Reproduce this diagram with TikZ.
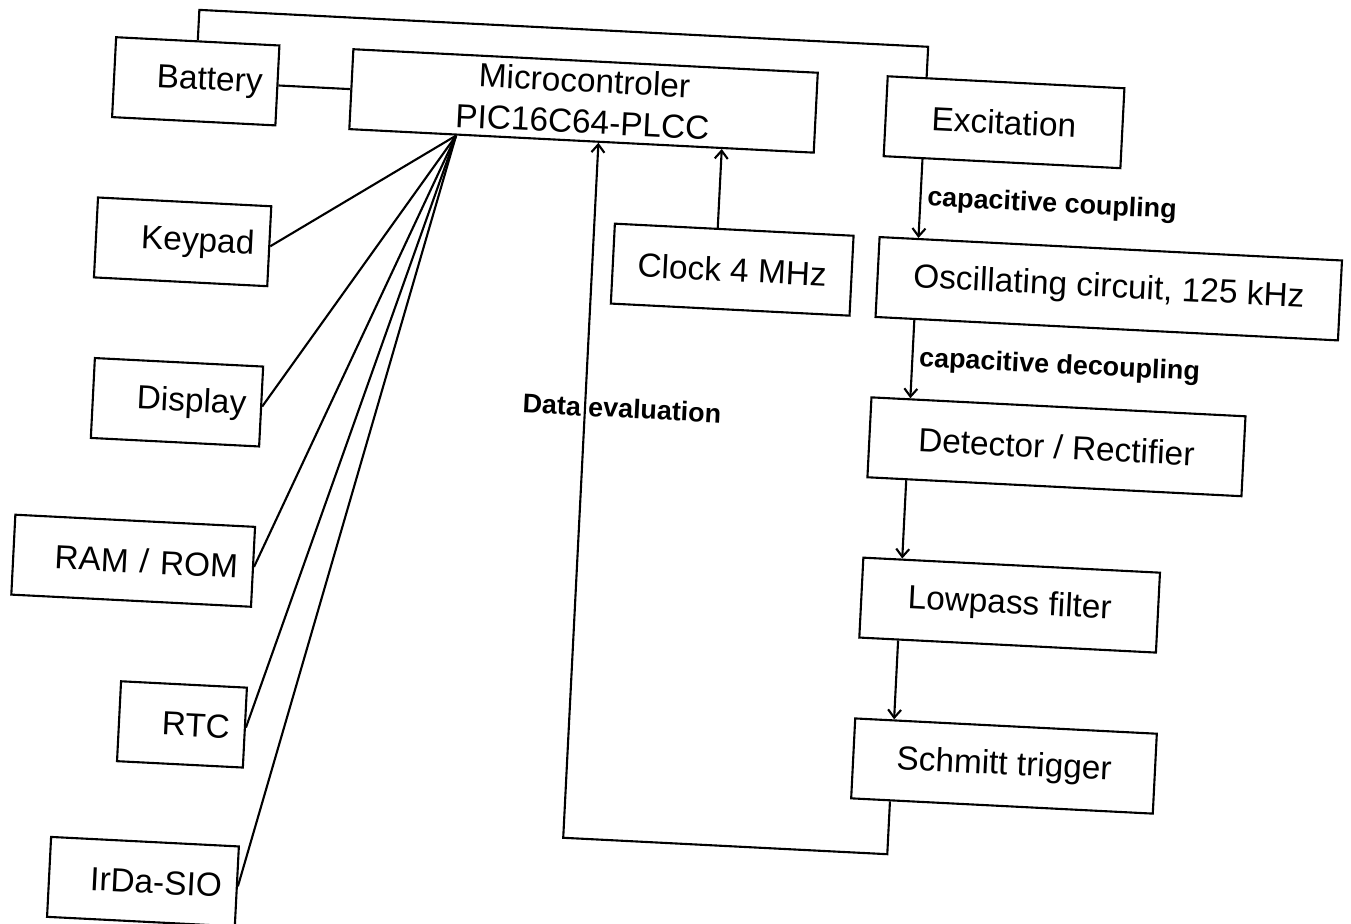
\documentclass[tikz,border=0pt]{standalone}
\usepackage{fontspec}
\setmainfont{Liberation Sans}
\usetikzlibrary{arrows.meta,positioning}

\begin{document}
\begin{tikzpicture}[
  block/.style={rectangle, draw, line width=1.2pt, minimum height=1.6cm, inner xsep=0.3cm, font=\fontsize{19}{23.5}\selectfont, align=center},
  unit/.style={block, anchor=east, align=right},
  stage/.style={block, anchor=west},
  link/.style={line width=1.2pt},
  flow/.style={line width=1.2pt, -{Straight Barb[length=1.6mm,width=2.6mm]}},
  note/.style={font=\fontsize{15.3}{18}\selectfont\bfseries},
]
  \useasboundingbox (0,0) rectangle (27.02,-18.46);
  \begin{scope}[rotate around={-2.9:(13.5,-9.2)}, transform shape]
  \node[block, minimum width=9.3cm] (mcu) at (11.31,-2.12) {Microcontroler\\PIC16C64-PLCC};
  \node[block, minimum width=4.78cm] (clk) at (14.45,-5.34) {Clock 4 MHz};

  % peripherals on the left
  \node[unit, text width=2.67cm] (bat) at (5.2,-2.12) {Battery};
  \node[unit, text width=2.87cm] (key) at (5.2,-5.34) {Keypad};
  \node[unit, text width=2.77cm] (disp) at (5.2,-8.55) {Display};
  \node[unit, text width=4.2cm] (ram) at (5.2,-11.76) {RAM / ROM};
  \node[unit, text width=1.92cm] (rtc) at (5.2,-14.98) {RTC};
  \node[unit, text width=3.16cm] (irda) at (5.2,-18.16) {IrDa-SIO};

  % receive chain on the right
  \node[stage, minimum width=4.74cm] (exc) at (17.34,-2.12) {Excitation};
  \node[stage, minimum width=9.26cm] (osc) at (17.34,-5.34) {Oscillating circuit, 125 kHz};
  \node[stage, minimum width=7.49cm] (det) at (17.34,-8.55) {Detector / Rectifier};
  \node[stage, minimum width=5.94cm] (low) at (17.34,-11.76) {Lowpass filter};
  \node[stage, minimum width=6.04cm] (sch) at (17.34,-14.98) {Schmitt trigger};

  \coordinate (chain) at (18.14,0);
  \coordinate (fan) at (8.8,0);
  \coordinate (clkin) at (14.12,0);
  \coordinate (rail) at (0,-0.69);
  \coordinate (dret) at (11.65,-16.86);

  \draw[link] (bat) -- (mcu);
  \draw[link] (bat.north) |- (rail -| chain) -- (exc.north -| chain);
  \foreach \p in {key,disp,ram,rtc,irda}
    \draw[link] (mcu.south -| fan) -- (\p.east);

  \draw[flow] (clk.north -| clkin) -- (mcu.south -| clkin);
  \draw[flow] (exc.south -| chain) -- (osc.north -| chain) node[midway, right, note] (cc) {capacitive coupling};
  \draw[flow] (osc.south -| chain) -- (det.north -| chain) node[midway, right, note] (cd) {capacitive decoupling};
  \draw[flow] (det.south -| chain) -- (low.north -| chain);
  \draw[flow] (low.south -| chain) -- (sch.north -| chain);
  \draw[flow] (sch.south -| chain) |- (dret) -- (mcu.south -| dret);
  \node[note] (deval) at (12.39,-8.22) {Data evaluation};
  \end{scope}
\end{tikzpicture}
\end{document}
